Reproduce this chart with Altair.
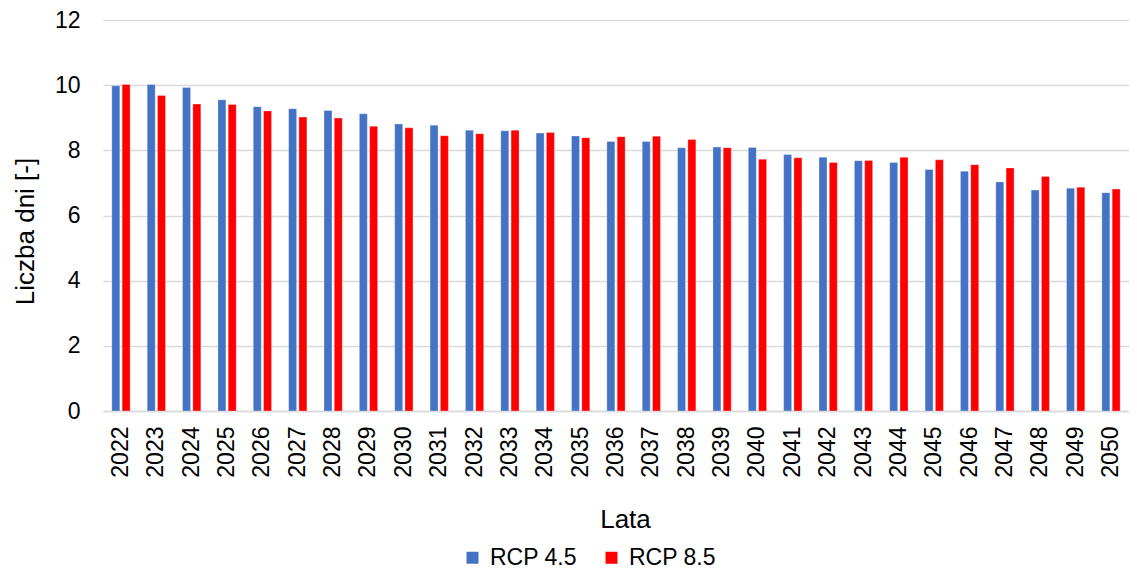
import altair as alt
import pandas as pd

years = [str(y) for y in range(2022, 2051)]
rcp45 = [9.98, 10.02, 9.93, 9.55, 9.34, 9.28, 9.22, 9.12, 8.81, 8.77,
         8.62, 8.60, 8.53, 8.44, 8.27, 8.27, 8.08, 8.10, 8.09, 7.87,
         7.79, 7.68, 7.63, 7.41, 7.36, 7.03, 6.78, 6.84, 6.70]
rcp85 = [10.02, 9.68, 9.42, 9.41, 9.21, 9.02, 8.99, 8.74, 8.69, 8.45,
         8.51, 8.62, 8.55, 8.39, 8.42, 8.43, 8.33, 8.08, 7.73, 7.77,
         7.63, 7.69, 7.79, 7.71, 7.56, 7.46, 7.20, 6.87, 6.81]
series = ["RCP 4.5", "RCP 8.5"]
colors = ["#4472C4", "#FF0000"]
y_ticks = [0, 2, 4, 6, 8, 10, 12]

rows = []
for i, y in enumerate(years):
    rows.append({"Rok": y, "Scenariusz": series[0], "Wartosc": rcp45[i]})
    rows.append({"Rok": y, "Scenariusz": series[1], "Wartosc": rcp85[i]})
df = pd.DataFrame(rows)

font = "Liberation Sans"
txt = "#000000"

chart = alt.Chart(df).mark_bar(stroke="#ffffff", strokeOpacity=0.5, strokeWidth=0.6).encode(
    x=alt.X("Rok:N", sort=years,
            scale=alt.Scale(paddingInner=0.483, paddingOuter=0.25),
            axis=alt.Axis(title="Lata", labelAngle=-90, labelAlign="right",
                          labelBaseline="middle", labelFontSize=23,
                          titleFontSize=26, labelPadding=15,
                          titleX=522, titleY=116, titleBaseline="alphabetic",
                          ticks=False, domainColor="#d9d9d9", domainWidth=1.5,
                          labelColor=txt, titleColor=txt,
                          titleFontWeight="normal", labelFont=font, titleFont=font)),
    xOffset=alt.XOffset("Scenariusz:N", sort=series,
                        scale=alt.Scale(paddingInner=0.223, paddingOuter=0)),
    y=alt.Y("Wartosc:Q", scale=alt.Scale(domain=[0, 12]),
            axis=alt.Axis(title="Liczba dni [-]", values=y_ticks,
                          labelFontSize=23, titleFontSize=26,
                          titleX=-70, titleY=211, titleBaseline="alphabetic",
                          labelPadding=23, ticks=False, domain=False,
                          gridColor="#d9d9d9", gridWidth=1.5,
                          labelColor=txt, titleColor=txt,
                          titleFontWeight="normal", labelFont=font, titleFont=font)),
    color=alt.Color("Scenariusz:N", sort=series,
                    scale=alt.Scale(domain=series, range=colors),
                    legend=alt.Legend(title=None, orient="none", direction="horizontal",
                                      legendX=358, legendY=526,
                                      symbolType="square", symbolSize=144,
                                      symbolStrokeWidth=0, labelOffset=6,
                                      labelFontSize=23, labelFont=font,
                                      labelColor=txt, columnPadding=23)),
).properties(
    width=1026, height=391, autosize="none",
    padding={"left": 95, "right": 0, "top": 12, "bottom": 159}
).configure_view(stroke=None)

chart.save("out.html", embed_options={"renderer": "svg", "actions": False})
